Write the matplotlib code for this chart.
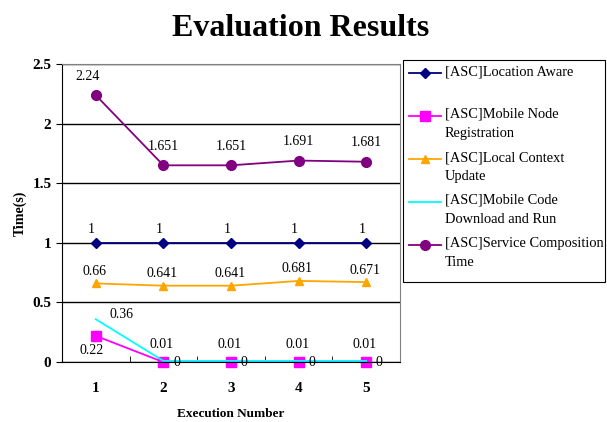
import numpy as np
import matplotlib.pyplot as plt
from matplotlib.lines import Line2D
from matplotlib.patches import Rectangle

runs = [1, 2, 3, 4, 5]
location_aware = [1, 1, 1, 1, 1]
node_registration = [0.22, 0, 0, 0, 0]
local_context = [0.66, 0.641, 0.641, 0.681, 0.671]
code_download = [0.36, 0.01, 0.01, 0.01, 0.01]
service_comp = [2.24, 1.651, 1.651, 1.691, 1.681]

labels = ['[ASC]Location Aware',
          '[ASC]Mobile Node\nRegistration',
          '[ASC]Local Context\nUpdate',
          '[ASC]Mobile Code\nDownload and Run',
          '[ASC]Service Composition\nTime']

plt.rcParams['font.family'] = ['Liberation Serif', 'DejaVu Serif']

W, H = 607, 422
fig = plt.figure(figsize=(W / 100, H / 100), dpi=100)
ax = fig.add_axes([0.102, 0.142, 0.557, 0.706])

x = np.arange(len(runs))
l1, = ax.plot(x, location_aware, color='#000080', marker='D', ms=5.5, lw=1.3, clip_on=False)
l2, = ax.plot(x, node_registration, color='#FF00FF', marker='s', ms=7, lw=1.3, clip_on=False)
l3, = ax.plot(x, local_context, color='#FFA500', marker='^', ms=5.5, lw=1.3, clip_on=False)
l4, = ax.plot(x, code_download, color='#00FFFF', lw=1.3, clip_on=False)
l5, = ax.plot(x, service_comp, color='#800080', marker='o', ms=7, lw=1.3, clip_on=False)

fs = 10
for i in x:
    ax.annotate(f'{location_aware[i]:g}', (i, location_aware[i]), xytext=(-3, 5),
                textcoords='offset points', ha='center', va='bottom', fontsize=fs)
    ax.annotate(f'{local_context[i]:g}', (i, local_context[i]), xytext=(-1, 4),
                textcoords='offset points', ha='center', va='bottom', fontsize=fs)
    dx = -6 if i == 0 else 0
    ax.annotate(f'{service_comp[i]:g}', (i, service_comp[i]), xytext=(dx, 9),
                textcoords='offset points', ha='center', va='bottom', fontsize=fs)
    if i == 0:
        ax.annotate(f'{code_download[i]:g}', (i, code_download[i]), xytext=(10, -1),
                    textcoords='offset points', ha='left', va='bottom', fontsize=fs)
        ax.annotate(f'{node_registration[i]:g}', (i, node_registration[i]), xytext=(-3, -6),
                    textcoords='offset points', ha='center', va='top', fontsize=fs)
    else:
        ax.annotate(f'{code_download[i]:g}', (i, code_download[i]), xytext=(-1, 7),
                    textcoords='offset points', ha='center', va='bottom', fontsize=fs)
        ax.annotate(f'{node_registration[i]:g}', (i, node_registration[i]), xytext=(7, 0),
                    textcoords='offset points', ha='left', va='center', fontsize=fs)

ax.set_xlim(-0.5, len(runs) - 0.5)
ax.set_ylim(0, 2.5)
ax.set_yticks([0, 0.5, 1, 1.5, 2, 2.5])
ax.set_yticklabels(['0', '0.5', '1', '1.5', '2', '2.5'], fontweight='bold', fontsize=11)
ax.set_xticks(x)
ax.set_xticklabels([str(r) for r in runs], fontweight='bold', fontsize=11)
ax.set_xticks(x[:-1] + 0.5, minor=True)
ax.tick_params(axis='x', which='major', length=0, pad=14)
ax.tick_params(axis='x', which='minor', direction='in', length=4)
ax.tick_params(axis='y', length=4, direction='out')
ax.grid(axis='y', color='black', lw=1)
ax.set_axisbelow(True)
for s in ['top', 'right']:
    ax.spines[s].set_color('#808080')
ax.set_xlabel('Execution Number', fontweight='bold', fontsize=9.5, labelpad=10)
ax.set_ylabel('Time(s)', fontweight='bold', fontsize=10, labelpad=4)

fig.suptitle('Evaluation Results', fontweight='bold', fontsize=23, x=0.495, y=0.968)

# legend box drawn by hand so the marker sits on the first text line
fig.patches.append(Rectangle((403 / W, 1 - 282 / H), 202 / W, 222 / H,
                             transform=fig.transFigure, fill=False,
                             edgecolor='black', lw=0.8))
for k, (h, lab) in enumerate(zip([l1, l2, l3, l4, l5], labels)):
    yy = 1 - (73 + 43 * k) / H
    fig.lines.append(Line2D([409 / W, 425 / W, 441 / W], [yy, yy, yy],
                            transform=fig.transFigure,
                            color=h.get_color(), lw=h.get_linewidth(),
                            marker=h.get_marker(), ms=h.get_markersize(),
                            markevery=[1], markerfacecolor=h.get_color()))
    fig.text(445 / W, yy + 8 / H, lab, fontsize=10.4, ha='left', va='top',
             linespacing=1.6)

fig.savefig('out.png', dpi=100)
